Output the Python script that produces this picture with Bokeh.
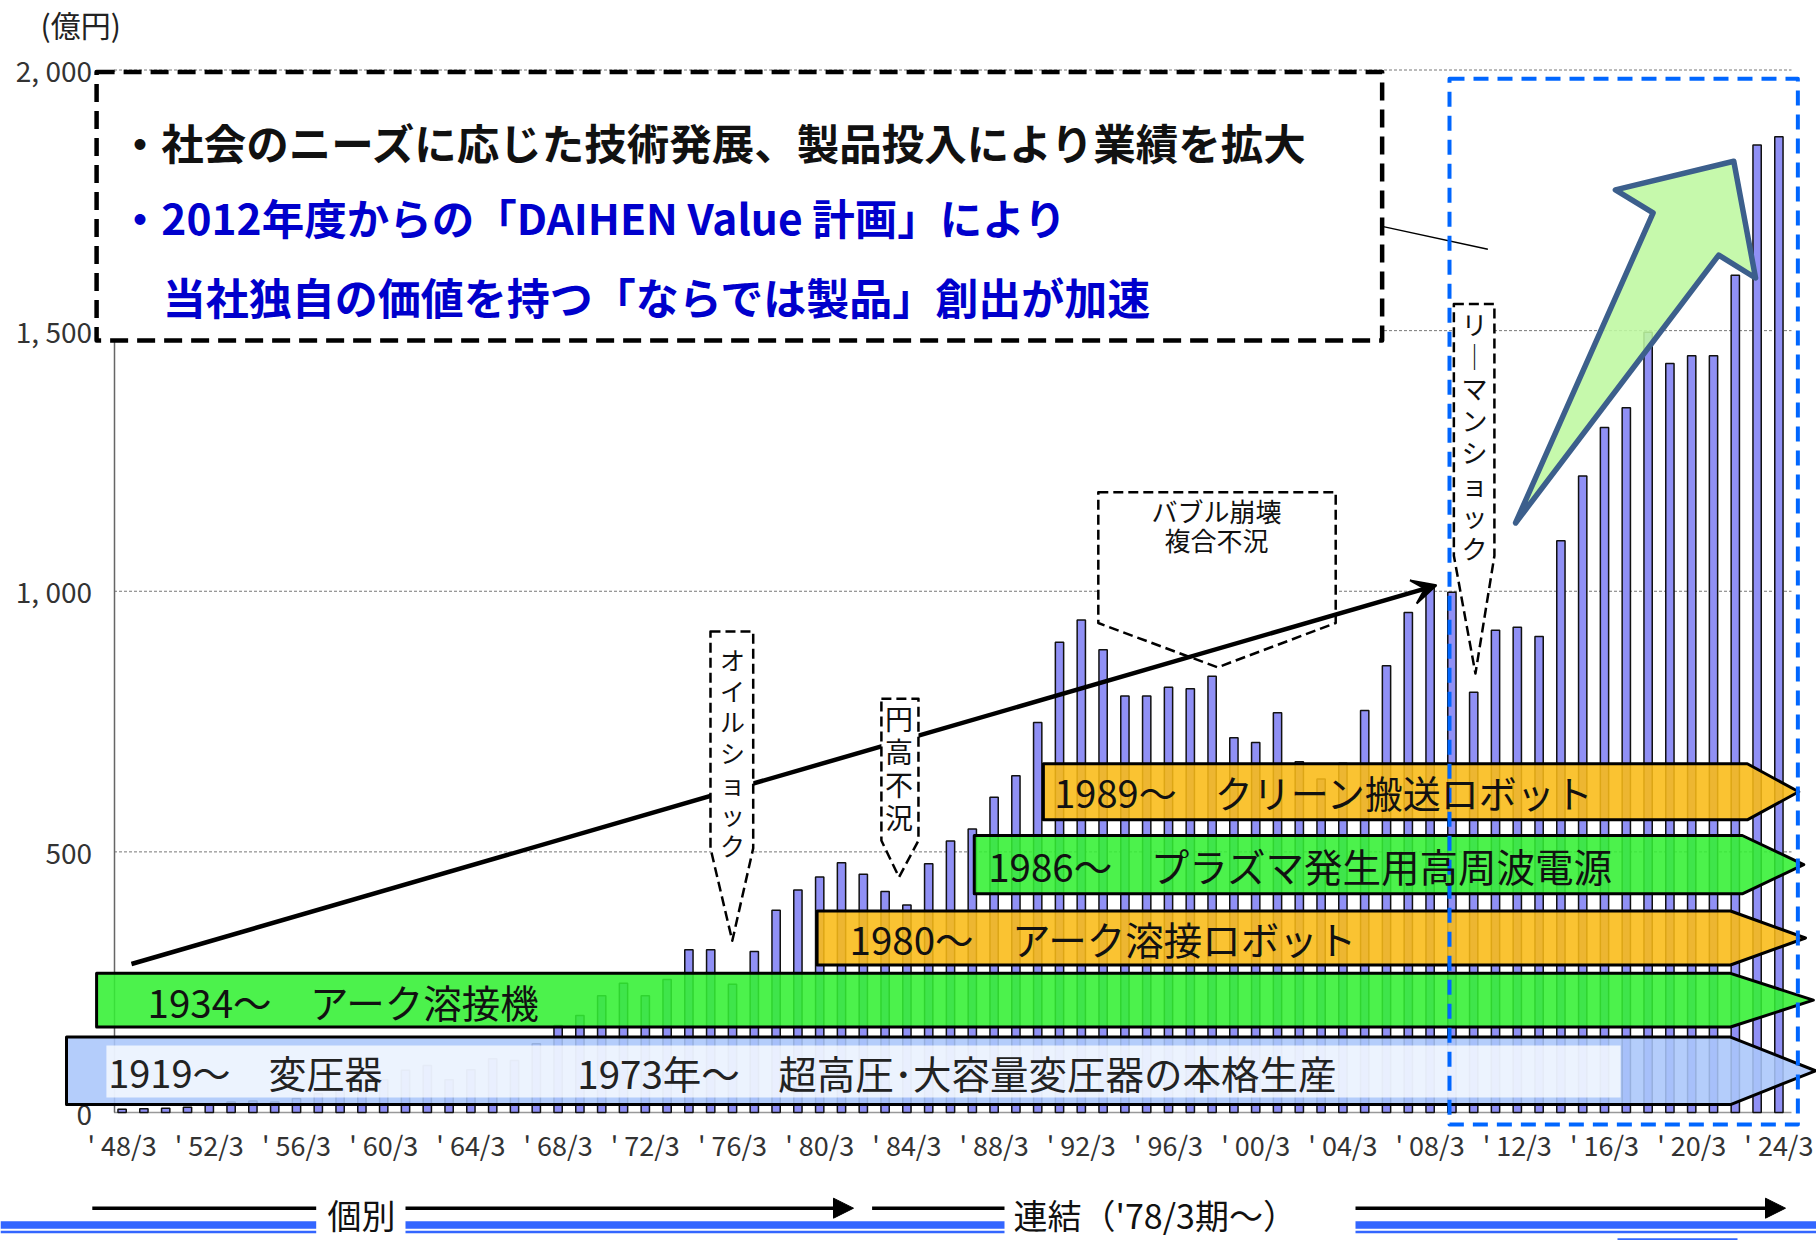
from bokeh.plotting import figure
from bokeh.models import (Range1d, FixedTicker, PolyAnnotation, Label, Arrow,
                          VeeHead, NormalHead, ColumnDataSource)
from bokeh.embed import file_html
from bokeh.resources import INLINE

# ---------------- data ----------------
years = list(range(1948, 2025))
sales = [6, 7, 8, 10, 14, 20, 22, 20, 27, 36,
         44, 40, 63, 81, 90, 63, 82, 103, 100, 132,
         167, 186, 224, 248, 224, 255, 312, 312, 246, 309,
         388, 427, 452, 479, 457, 424, 398, 477, 521, 544,
         605, 646, 748, 902, 945, 888, 799, 799, 816, 813,
         837, 719, 710, 767, 673, 640, 670, 771, 857, 959,
         1007, 998, 806, 925, 931, 913, 1097, 1221, 1314, 1352,
         1497, 1437, 1452, 1452, 1606, 1856, 1872]
tick_years = [1948, 1952, 1956, 1960, 1964, 1968, 1972, 1976, 1980, 1984,
              1988, 1992, 1996, 2000, 2004, 2008, 2012, 2016, 2020, 2024]
tick_labels = ["' 48/3", "' 52/3", "' 56/3", "' 60/3", "' 64/3", "' 68/3", "' 72/3",
               "' 76/3", "' 80/3", "' 84/3", "' 88/3", "' 92/3", "' 96/3", "' 00/3",
               "' 04/3", "' 08/3", "' 12/3", "' 16/3", "' 20/3", "' 24/3"]
y_ticks = [0, 500, 1000, 1500, 2000]
y_tick_labels = ["0", "500", "1, 000", "1, 500", "2, 000"]
grid_values = [500, 1000, 1500, 2000]

FONT = "Noto Sans CJK JP"
W, H = 1816, 1240


# pixel -> data helpers for annotation placement
def X(px):
    return 1948 + (px - 121.6) / 21.8


def V(py):
    return (1112 - py) / 0.52125


p = figure(width=W, height=H,
           x_range=Range1d(X(0), X(W)), y_range=Range1d(V(H), V(0)),
           output_backend="svg", toolbar_location=None, min_border=0,
           background_fill_color="white", border_fill_color="white", outline_line_color=None)

AX_X = X(113.5)
AX_END = X(1791)

p.xaxis.fixed_location = V(1116)
p.xaxis.ticker = FixedTicker(ticks=tick_years)
p.xaxis.major_label_overrides = dict(zip(tick_years, tick_labels))
p.xaxis.axis_line_color = None
p.xaxis.major_tick_line_color = None
p.xaxis.minor_tick_line_color = None
p.xaxis.major_label_text_font = FONT
p.xaxis.major_label_text_font_size = "27px"
p.xaxis.major_label_text_color = "#333333"
p.xaxis.major_label_standoff = 2

p.yaxis.fixed_location = AX_X
p.yaxis.ticker = FixedTicker(ticks=y_ticks)
p.yaxis.major_label_overrides = dict(zip(y_ticks, y_tick_labels))
p.yaxis.axis_line_color = "#666666"
p.yaxis.axis_line_width = 1.5
p.yaxis.bounds = (0, 2000)
p.yaxis.major_tick_out = 0
p.yaxis.major_tick_in = 0
p.yaxis.minor_tick_line_color = None
p.yaxis.major_label_text_font = FONT
p.yaxis.major_label_text_font_size = "28px"
p.yaxis.major_label_text_color = "#333333"
p.yaxis.major_label_standoff = 22

p.xgrid.visible = False
p.ygrid.visible = False

# dashed value grid lines and baseline
p.segment(x0=[AX_X] * len(grid_values), y0=grid_values,
          x1=[AX_END] * len(grid_values), y1=grid_values,
          line_color="#777777", line_dash="3 2", line_width=1, level="underlay")
p.segment(x0=[AX_X], y0=[0], x1=[AX_END], y1=[0],
          line_color="#999999", line_width=1.5, level="underlay")

src = ColumnDataSource(dict(year=years, sales=sales))
p.vbar(x="year", top="sales", bottom=0, width=0.38, source=src,
       fill_color="#9090F5", line_color="#111111", line_width=1.5)


def poly(xs, ys, fill=None, alpha=1.0, line="black", lw=2.0, dash="solid"):
    a = PolyAnnotation(xs=xs, ys=ys, xs_units="data", ys_units="data",
                       fill_color=fill, fill_alpha=alpha if fill else 0,
                       line_color=line, line_alpha=1.0 if line else 0,
                       line_width=lw, line_dash=dash, line_join="round")
    p.add_layout(a)
    return a


def lab(x, y, text, size, color="#111111", bold=False, align="left", lh=1.2):
    l = Label(x=x, y=y, text=text, text_font=FONT, text_font_size=f"{size}px",
              text_color=color, text_font_style="bold" if bold else "normal",
              text_align=align, text_baseline="middle", text_line_height=lh)
    p.add_layout(l)
    return l


# bubble callout (under the trend arrow)
poly([1992.78, 2003.67, 2003.67, 1998.25, 1992.78],
     [1190, 1190, 939, 854, 939], fill="white", lw=2.5, dash="10 5")

# trend arrow
p.add_layout(Arrow(end=VeeHead(size=24, fill_color="black", line_color="black", line_width=2),
                   x_start=1948.43, y_start=284.9, x_end=2008.29, y_end=1011.4,
                   line_width=4.5, line_color="black"))

# oil shock and 円高 callouts (over the trend arrow)
poly([1974.99, 1976.95, 1976.95, 1975.99, 1974.99],
     [922.8, 922.8, 507, 329.4, 507], fill="white", lw=2.5, dash="10 5")
poly([1982.83, 1984.53, 1984.53, 1983.64, 1982.83],
     [793.7, 793.7, 521.8, 451.4, 521.8], fill="white", lw=2.5, dash="10 5")


# product bands (home-plate shapes)
def band(x0, x1, xt, yb, yt, color):
    poly([x0, x1, xt, x1, x0], [yt, yt, (yt + yb) / 2, yb, yb],
         fill=color, alpha=0.88, line="black", lw=3)


band(1945.45, 2021.78, 2025.68, 15.3, 144.8, "#AAC6FA")
poly([1947.28, 2016.74, 2016.74, 1947.28], [128.5, 128.5, 28.8, 28.8],
     fill="white", alpha=0.75, line=None, lw=0)
band(1946.83, 2021.78, 2025.58, 164, 267, "#33F033")
band(1979.88, 2021.78, 2025.22, 283, 386.6, "#F9BB16")
band(1987.09, 2022.32, 2025.14, 419.5, 531.4, "#33F033")
band(1990.26, 2022.55, 2024.91, 561.5, 669, "#F9BB16")

# blue dashed frame
poly([2008.89, 2024.87, 2024.87, 2008.89], [1983, 1983, -23, -23],
     fill=None, line="#0066FF", lw=4, dash="15 9")

# message box
poly([1946.83, 2005.8, 2005.8, 1946.83], [1996, 1996, 1481, 1481],
     fill="white", alpha=1.0, line="black", lw=4.5, dash="18 9")
p.segment(x0=[2005.8], y0=[1700], x1=[2010.65], y1=[1656], line_color="black", line_width=1.5)

# growth arrow
poly([2011.92, 2018.23, 2016.5, 2021.93, 2022.93, 2021.24, 2011.92],
     [1131, 1726, 1770, 1825, 1601, 1645, 1131],
     fill="#BEF8A0", alpha=0.88, line="#3C5F8C", lw=5.5)

# Lehman callout
poly([2009.09, 2010.95, 2010.95, 2010.08, 2009.09],
     [1551, 1551, 1068, 842, 1068], fill="white", lw=2.5, dash="10 5")

# ---------------- texts ----------------
lab(X(40), V(23), "(億円)", 30, color="#222222")

lab(1947.85, 1862, "・社会のニーズに応じた技術発展、製品投入により業績を拡大", 42.5, bold=True)
lab(1947.85, 1718, "・2012年度からの「DAIHEN Value 計画」により", 42.5, color="#0000CC", bold=True)
lab(1949.86, 1567, "当社独自の価値を持つ「ならでは製品」創出が加速", 43, color="#0000CC", bold=True)

lab(1947.36, 78, "1919～　変圧器", 38, color="#222222")
lab(1968.88, 78, "1973年～　超高圧･大容量変圧器の本格生産", 38.5, color="#222222")
lab(1949.17, 213, "1934～　アーク溶接機", 38.5)
lab(1981.37, 335, "1980～　アーク溶接ロボット", 38.5)
lab(1987.73, 475, "1986～　プラズマ発生用高周波電源", 38.5)
lab(1990.76, 615, "1989～　クリーン搬送ロボット", 38)

lab(1976.0, 692, "オ\nイ\nル\nシ\nョ\nッ\nク", 25, align="center", lh=0.86)
lab(1983.64, 662, "円\n高\n不\n況", 28, align="center", lh=0.825)
lab(1998.2, 1128, "バブル崩壊\n複合不況", 26, align="center", lh=0.785)
lab(2010.04, 1299, "リ\n｜\nマ\nン\nシ\nョ\nッ\nク", 26, align="center", lh=0.867)

# ---------------- bottom: 個別 / 連結 ----------------
yb = V(1207.7)
p.segment(x0=[X(91.8), X(871.6)], y0=[yb, yb], x1=[X(315.7), X(1004)], y1=[yb, yb],
          line_color="black", line_width=3.5)
p.add_layout(Arrow(end=NormalHead(size=20, fill_color="black", line_color="black"),
                   x_start=X(405), y_start=yb, x_end=X(853), y_end=yb,
                   line_width=3.5, line_color="black"))
p.add_layout(Arrow(end=NormalHead(size=20, fill_color="black", line_color="black"),
                   x_start=X(1355), y_start=yb, x_end=X(1785), y_end=yb,
                   line_width=3.5, line_color="black"))
for py, lw in [(1224.5, 7.5), (1231.6, 2.5)]:
    yy = V(py)
    p.segment(x0=[X(0), X(405), X(1355)], y0=[yy] * 3,
              x1=[X(315.7), X(1004), X(1816)], y1=[yy] * 3,
              line_color="#3366FF", line_width=lw)
p.segment(x0=[X(1617)], y0=[V(1238.8)], x1=[X(1737)], y1=[V(1238.8)],
          line_color="#3366FF", line_width=2)
lab(X(361), V(1214), "個別", 34, align="center")
lab(X(1013), V(1214), "連結（'78/3期～）", 34)

open("out.html", "w").write(file_html(p, INLINE))
